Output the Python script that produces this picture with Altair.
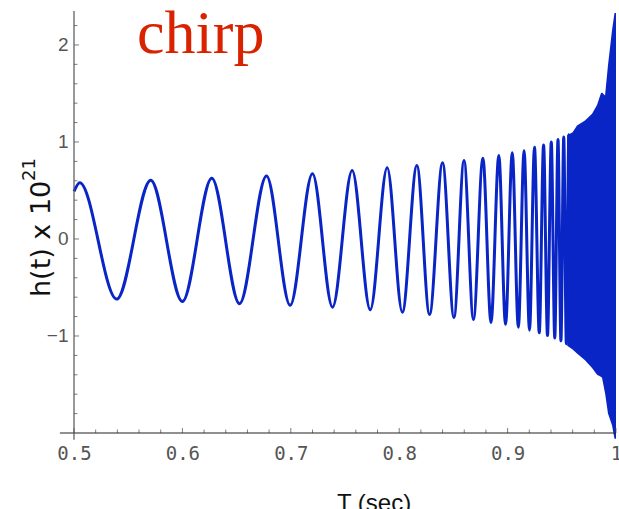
import altair as alt
import pandas as pd

# ---- data ----
# extrema (peaks / troughs) of the resolved cycles
wave_t = [0.5, 0.5053, 0.5394, 0.5708, 0.6000, 0.6271, 0.6527, 0.6776, 0.6994, 0.7200,
          0.7385, 0.7566, 0.7733, 0.7889, 0.8029, 0.8163, 0.8280, 0.8400, 0.8505, 0.8598,
          0.8685, 0.8772, 0.8847, 0.8919, 0.8981, 0.9043, 0.9099, 0.9152, 0.9202, 0.9248,
          0.9292, 0.9332, 0.9368, 0.9403, 0.9435, 0.9465, 0.9492, 0.9518, 0.9542, 0.9565,
          0.9588]
wave_h = [0.49, 0.58, -0.62, 0.605, -0.645, 0.626, -0.667, 0.65, -0.684, 0.673,
          -0.703, 0.706, -0.73, 0.734, -0.755, 0.758, -0.778, 0.786, -0.81, 0.81,
          -0.83, 0.833, -0.86, 0.86, -0.88, 0.89, -0.91, 0.91, -0.94, 0.946,
          -0.967, 0.97, -0.995, 1.0, -1.02, 1.025, -1.05, 1.05, -1.08, 1.074,
          -1.1]

# envelope of the unresolved (dense) final portion
env_t = [0.955, 0.960, 0.964, 0.9714, 0.9779, 0.9825, 0.9860, 0.9871, 0.9899, 0.9926,
         0.9963, 0.9986, 1.0]
env_hi = [1.07, 1.10, 1.17, 1.22, 1.29, 1.38, 1.50, 1.51, 1.48, 1.79,
          2.15, 2.33, 2.33]
env_lo = [-1.1, -1.14, -1.18, -1.25, -1.33, -1.40, -1.42, -1.43, -1.59, -1.8,
          -1.92, -2.06, -2.06]

x_major = [0.5, 0.6, 0.7, 0.8, 0.9, 1.0]
x_minor = [0.52, 0.54, 0.56, 0.58, 0.62, 0.64, 0.66, 0.68, 0.72, 0.74, 0.76, 0.78,
           0.82, 0.84, 0.86, 0.88, 0.92, 0.94, 0.96, 0.98]
y_major = [-1, 0, 1, 2]
y_minor = [-1.8, -1.6, -1.4, -1.2, -0.8, -0.6, -0.4, -0.2, 0.2, 0.4, 0.6, 0.8,
           1.2, 1.4, 1.6, 1.8, 2.2]

x_axis_at = -2
y_axis_at = 0.5
x_line_span = [0.487, 1.0]
y_line_span = [-2.07, 2.35]

title_text = "chirp"
ylabel_text = "h(t) x 10"
ylabel_sup = "21"
xlabel_text = "T (sec)"

# ---- styling ----
BLUE = "#0a25c6"
W, H = 542, 422
XDOM = [0.5, 1.0]
YDOM = [-2, 2.35]
xs = alt.Scale(domain=XDOM, nice=False, zero=False)
ys = alt.Scale(domain=YDOM, nice=False, zero=False)

XAX = alt.Axis(values=x_major, format="~g", title=None, ticks=False, tickSize=0, domain=False,
               grid=False, labelFont="DejaVu Sans Mono", labelFontSize=19, labelColor="#555",
               labelPadding=11, labelFlush=False, labelOverlap=False)
YAX = alt.Axis(values=y_major, title=None, ticks=False, tickSize=0, domain=False, grid=False,
               labelFont="Liberation Sans", labelFontSize=19, labelColor="#555",
               labelPadding=6, labelOverlap=False, labelFlush=False)


def X(f):
    return alt.X(f, scale=xs, axis=XAX)


def Y(f):
    return alt.Y(f, scale=ys, axis=YAX)


wave = pd.DataFrame({"t": wave_t, "h": wave_h})
env = pd.DataFrame({"t": env_t, "hi": env_hi, "lo": env_lo})

line = alt.Chart(wave).mark_line(color=BLUE, strokeWidth=3, interpolate="monotone").encode(
    x=X("t:Q"), y=Y("h:Q"))

area = alt.Chart(env).mark_area(color=BLUE, interpolate="linear").encode(
    x=X("t:Q"), y=Y("hi:Q"), y2="lo:Q")


def xticks(vals, size):
    df = pd.DataFrame({"v": vals, "b": [x_axis_at] * len(vals)})
    return alt.Chart(df).mark_tick(orient="vertical", size=size, thickness=1, color="#444",
                                   yOffset=-size / 2).encode(x=X("v:Q"), y=Y("b:Q"))


def yticks(vals, size):
    df = pd.DataFrame({"v": vals, "b": [y_axis_at] * len(vals)})
    return alt.Chart(df).mark_tick(orient="horizontal", size=size, thickness=1, color="#444",
                                   xOffset=size / 2).encode(y=Y("v:Q"), x=X("b:Q"))


xline = alt.Chart(pd.DataFrame({"a": [x_line_span[0]], "b": [x_line_span[1]], "y": [x_axis_at]})).mark_rule(
    color="#222", strokeWidth=1.2).encode(x=X("a:Q"), x2="b:Q", y=Y("y:Q"))
yline = alt.Chart(pd.DataFrame({"a": [y_line_span[0]], "b": [y_line_span[1]], "x": [y_axis_at]})).mark_rule(
    color="#555", strokeWidth=1.2).encode(y=Y("a:Q"), y2="b:Q", x=X("x:Q"))


def label(txt, **kw):
    return alt.Chart(pd.DataFrame({"s": [txt]})).mark_text(**kw)


title = label(title_text, font="Liberation Serif", fontSize=62, color="#d92200",
              align="left", baseline="alphabetic").encode(
    x=alt.value(63), y=alt.value(42), text="s:N")
ylab = label(ylabel_text, font="DejaVu Sans", fontSize=27, color="#111", angle=270,
             align="left", baseline="alphabetic").encode(
    x=alt.value(-24), y=alt.value(286), text="s:N")
ysup = label(ylabel_sup, font="DejaVu Sans", fontSize=18, color="#111", angle=270,
             align="left", baseline="alphabetic").encode(
    x=alt.value(-39), y=alt.value(170), text="s:N")
xlab = label(xlabel_text, font="Liberation Sans", fontSize=24, color="#111",
             align="center", baseline="alphabetic").encode(
    x=alt.value(300), y=alt.value(500), text="s:N")

chart = alt.layer(
    line, area,
    xticks(x_minor, 3.5), xticks(x_major, 5), yticks(y_minor, 3.5), yticks(y_major, 5),
    xline, yline, title, ylab, ysup, xlab,
).properties(
    width=W, height=H,
    autosize=alt.AutoSizeParams(type="none"),
    padding={"left": 74, "top": 11, "right": 3, "bottom": 76},
    background="white",
).configure_view(stroke=None)

chart.save("out.html", embed_options={"renderer": "svg", "actions": False})
